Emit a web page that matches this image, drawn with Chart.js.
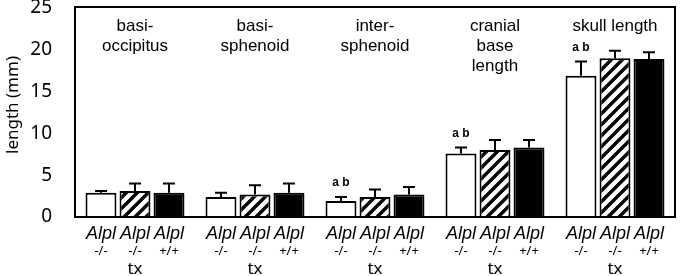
<!DOCTYPE html>
<html>
<head>
  <meta charset="UTF-8">
  <title>Cranial base lengths</title>
  <script src="https://cdn.jsdelivr.net/npm/chart.js@4"></script>
  <style>
    html, body { margin: 0; padding: 0; background: #fff; }
    #wrap { width: 680px; height: 276px; }
  </style>
</head>
<body>
  <div id="wrap"><canvas id="chart"></canvas></div>
  <script>
    // group titles (one per category), each is a list of lines
    const groupTitles = [
      ["basi-", "occipitus"],
      ["basi-", "sphenoid"],
      ["inter-", "sphenoid"],
      ["cranial", "base", "length"],
      ["skull length"]
    ];
    const categories = ["basi-occipitus", "basi-sphenoid", "inter-sphenoid", "cranial base length", "skull length"];

    // means (mm) and SD
    const koValues   = [2.9, 2.4, 1.9, 7.6, 16.9];
    const koErr      = [0.2, 0.5, 0.5, 0.7, 1.7];
    const koTxValues = [3.1, 2.7, 2.4, 8.0, 19.0];
    const koTxErr    = [0.9, 1.1, 0.9, 1.2, 0.9];
    const wtValues   = [2.9, 2.9, 2.7, 8.3, 18.9];
    const wtErr      = [1.1, 1.1, 0.9, 0.9, 0.8];

    // "a b" significance marks over the Alpl -/- bar
    const sigMarks = ["", "", "a b", "a b", "a b"];

    // labels under each bar: [gene, genotype, treatment]
    const barLabels = [
      ["Alpl", "-/-", ""],
      ["Alpl", "-/-", "tx"],
      ["Alpl", "+/+", ""]
    ];

    const yTicks = [0, 5, 10, 15, 20, 25];

    // hatch pattern for the treated group
    function makeHatch() {
      const s = 11;
      const c = document.createElement("canvas");
      c.width = s; c.height = s;
      const g = c.getContext("2d");
      g.fillStyle = "#fff";
      g.fillRect(0, 0, s, s);
      g.strokeStyle = "#000";
      g.lineWidth = 3.4;
      g.beginPath();
      g.moveTo(-s / 2, s / 2); g.lineTo(s / 2, -s / 2);
      g.moveTo(0, s); g.lineTo(s, 0);
      g.moveTo(s / 2, s * 1.5); g.lineTo(s * 1.5, s / 2);
      g.stroke();
      return g.createPattern(c, "repeat");
    }

    const decorations = {
      id: "decorations",
      afterDatasetsDraw(chart) {
        const ctx = chart.ctx;
        const y = chart.scales.y;
        const errs = [koErr, koTxErr, wtErr];
        ctx.save();
        ctx.strokeStyle = "#000";
        ctx.lineWidth = 2;
        chart.data.datasets.forEach((ds, di) => {
          const meta = chart.getDatasetMeta(di);
          meta.data.forEach((bar, i) => {
            const top = y.getPixelForValue(ds.data[i]);
            const et = y.getPixelForValue(ds.data[i] + errs[di][i]);
            ctx.beginPath();
            ctx.moveTo(bar.x, top);
            ctx.lineTo(bar.x, et);
            ctx.moveTo(bar.x - 6, et);
            ctx.lineTo(bar.x + 6, et);
            ctx.stroke();
            if (di === 0 && sigMarks[i]) {
              ctx.fillStyle = "#000";
              ctx.font = "bold 12px 'Liberation Sans', Arial, sans-serif";
              ctx.textAlign = "center";
              ctx.textBaseline = "middle";
              ctx.fillText(sigMarks[i], bar.x, et - 14);
            }
          });
        });
        ctx.restore();
      },
      afterDraw(chart) {
        const ctx = chart.ctx;
        const a = chart.chartArea;
        const x = chart.scales.x;
        ctx.save();
        // frame
        ctx.strokeStyle = "#000";
        ctx.lineWidth = 2;
        ctx.strokeRect(a.left, a.top - 1, a.right - a.left, a.bottom - a.top + 1);
        // group titles
        ctx.fillStyle = "#000";
        ctx.textAlign = "center";
        ctx.textBaseline = "alphabetic";
        ctx.font = "17px 'Liberation Sans', Arial, sans-serif";
        groupTitles.forEach((lines, i) => {
          const cx = x.getPixelForValue(i);
          lines.forEach((t, li) => ctx.fillText(t, cx, 31 + li * 20));
        });
        // labels under bars
        chart.data.datasets.forEach((ds, di) => {
          const meta = chart.getDatasetMeta(di);
          meta.data.forEach((bar) => {
            const [gene, geno, tx] = barLabels[di];
            ctx.font = "italic 18px 'Liberation Sans', Arial, sans-serif";
            ctx.fillText(gene, bar.x, a.bottom + 22);
            ctx.font = "13px 'Noto Sans', sans-serif";
            ctx.fillText(geno, bar.x, a.bottom + 38);
            if (tx) {
              ctx.font = "17px 'Noto Sans', sans-serif";
              ctx.fillText(tx, bar.x, a.bottom + 57);
            }
          });
        });
        // axis title, centred a little above the middle like the original
        ctx.translate(13, 105);
        ctx.rotate(-Math.PI / 2);
        ctx.textBaseline = "middle";
        ctx.font = "17px 'Noto Sans', sans-serif";
        ctx.fillText("length (mm)", 0, 0);
        ctx.restore();
      }
    };

    new Chart(document.getElementById("chart"), {
      type: "bar",
      data: {
        labels: categories,
        datasets: [
          { label: "Alpl -/-", data: koValues, backgroundColor: "#fff", borderColor: "#000", borderWidth: 2 },
          { label: "Alpl -/- tx", data: koTxValues, backgroundColor: makeHatch(), borderColor: "#000", borderWidth: 2 },
          { label: "Alpl +/+", data: wtValues, backgroundColor: "#000", borderColor: "#000", borderWidth: 2 }
        ]
      },
      options: {
        responsive: true,
        maintainAspectRatio: false,
        animation: false,
        datasets: { bar: { categoryPercentage: 0.85, barPercentage: 0.91 } },
        layout: { padding: { left: 0, right: 5, top: 8, bottom: 59 } },
        plugins: { legend: { display: false }, tooltip: { enabled: false } },
        scales: {
          x: {
            grid: { display: false },
            border: { display: false },
            ticks: { display: false },
            afterFit: (s) => { s.height = 0; s.paddingLeft = 0; s.paddingRight = 0; }
          },
          y: {
            min: 0,
            max: 25,
            afterBuildTicks: (s) => { s.ticks = yTicks.map(v => ({ value: v })); },
            afterFit: (s) => { s.width = 75; s.paddingTop = 0; s.paddingBottom = 0; },
            grid: { display: false },
            border: { display: false },
            ticks: {
              padding: 15,
              color: "#000",
              font: { family: "'Noto Sans', sans-serif", size: 19 }
            }
          }
        }
      },
      plugins: [decorations]
    });
  </script>
</body>
</html>
